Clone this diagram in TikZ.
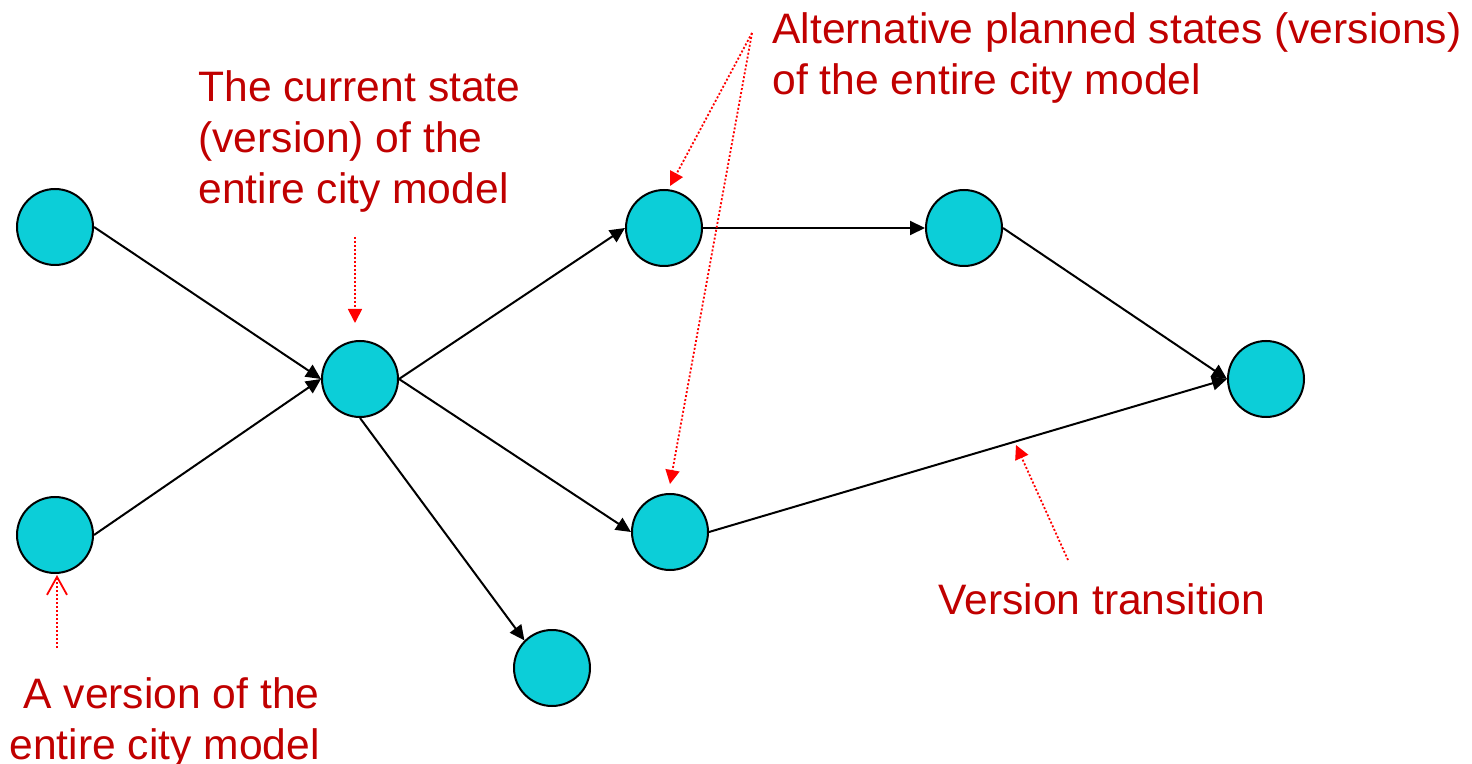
\documentclass[tikz,border=0pt]{standalone}
\usepackage{fontspec}
\setmainfont{Liberation Sans}
\usetikzlibrary{arrows.meta}
\definecolor{statefill}{RGB}{12,206,216}
\definecolor{labelred}{RGB}{192,0,0}
\definecolor{pointred}{RGB}{255,0,0}
\tikzset{
  state/.style={circle, draw=black, line width=1pt, fill=statefill, minimum size=38pt, inner sep=0pt},
  trans/.style={draw=black, line width=1pt, -{Triangle[length=7.5pt,width=7pt]}},
  note/.style={text=labelred, inner sep=0pt, font=\fontsize{21.3}{25.6}\selectfont},
  pointer/.style={draw=pointred, line width=0.9pt, dash pattern=on 1pt off 1pt, -{Triangle[length=7pt,width=7pt]}},
  openpointer/.style={draw=pointred, line width=0.9pt, dash pattern=on 1pt off 1pt, -{Straight Barb[length=9pt,width=10pt,line width=0.9pt]}}
}
\begin{document}
\begin{tikzpicture}[x=0.5pt,y=-0.5pt]
\useasboundingbox (0,0) rectangle (1472,764);

% version states
\node[state] (a) at (55,227) {};
\node[state] (b) at (55,535) {};
\node[state] (c) at (360,379) {};
\node[state] (d) at (664,228) {};
\node[state] (e) at (670,532) {};
\node[state] (f) at (964,228) {};
\node[state] (g) at (1266,379) {};
\node[state] (h) at (552,668) {};

% version transitions
\draw[trans] (a.east) -- (c.west);
\draw[trans] (b.east) -- (c.west);
\draw[trans] (c.east) -- (d.west);
\draw[trans] (c.east) -- (e.west);
\draw[trans] (c.south) -- (h.north west);
\draw[trans] (d.east) -- (f.west);
\draw[trans] (f.east) -- (g.west);
\draw[trans] (e.east) -- (g.west);

% explanatory labels
\node[note, anchor=north west, align=left] (cur) at (198,70)
  {The current state\\(version) of the\\entire city model};
\node[note, anchor=north west, align=left] (alt) at (772,12)
  {Alternative planned states (versions)\\of the entire city model};
\node[note, anchor=north east, align=right] (ver) at (320,677)
  {A version of the\\entire city model};
\node[note, anchor=north west] (tr) at (938,583) {Version transition};

% pointer ends
\coordinate (curfrom) at (355,237);
\coordinate (curto) at (355,323);
\coordinate (altfrom) at (752,33);
\coordinate (altto1) at (670,186);
\coordinate (altto2) at (670,484);
\coordinate (verfrom) at (57,648);
\coordinate (verto) at (57,575);
\coordinate (trfrom) at (1068,560);
\coordinate (trto) at (1016,445);

% dotted pointers
\draw[pointer] (curfrom) -- (curto);
\draw[pointer] (altfrom) -- (altto1);
\draw[pointer] (altfrom) -- (altto2);
\draw[openpointer] (verfrom) -- (verto);
\draw[pointer] (trfrom) -- (trto);
\end{tikzpicture}
\end{document}
